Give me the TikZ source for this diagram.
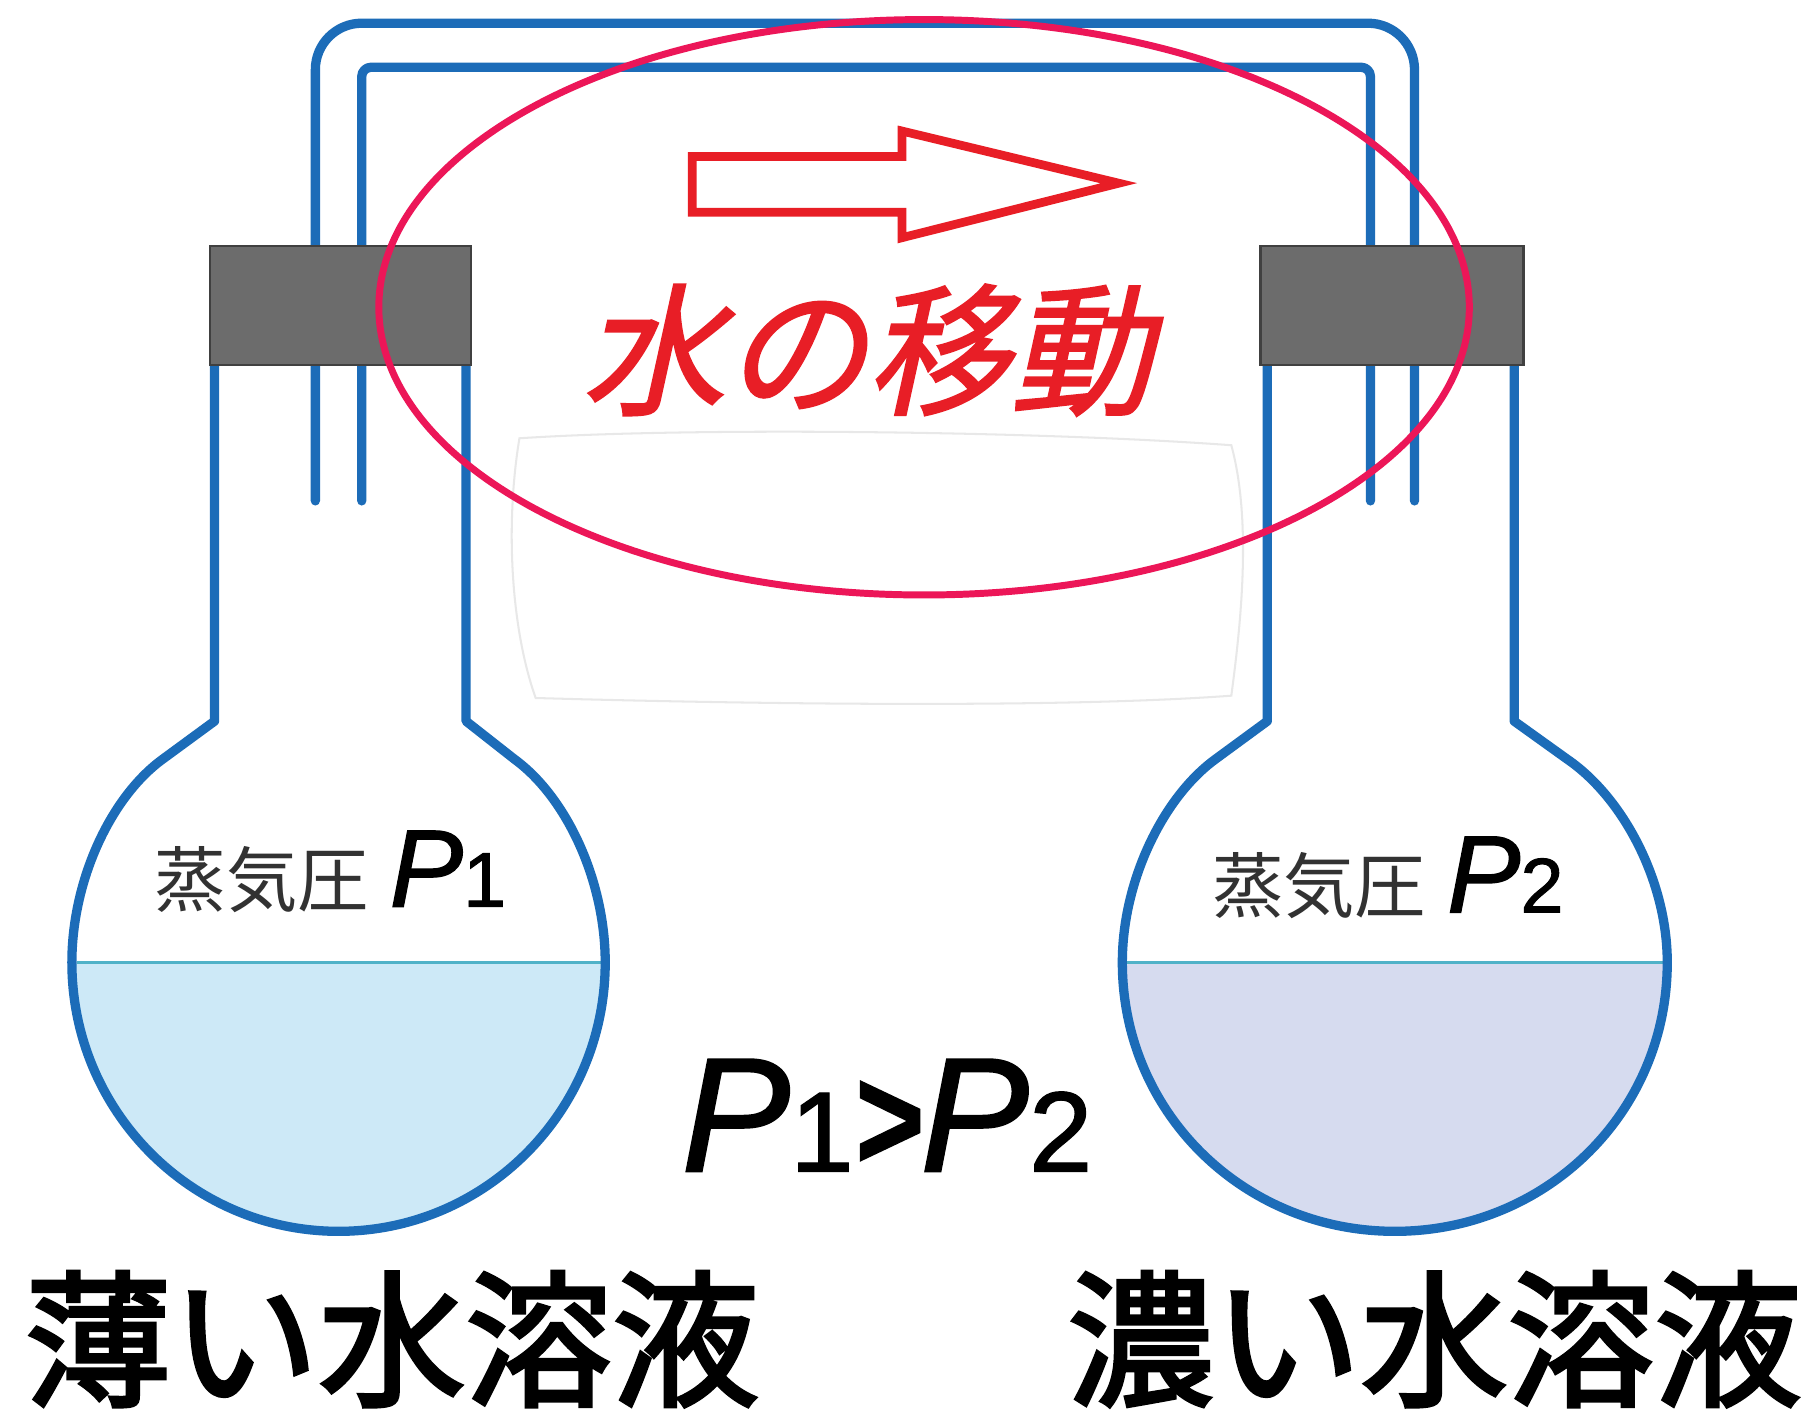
\documentclass[tikz,border=0pt]{standalone}
\usepackage{fontspec}
\usepackage{graphicx}
\setmainfont{Liberation Sans}
\newfontfamily\jp{Noto Sans CJK JP}
\newfontfamily\jpheavy[FakeBold=2.6]{Noto Sans CJK JP}
\newfontfamily\jpslant[FakeSlant=0.22,FakeBold=1.4]{Noto Sans CJK JP}
\newfontfamily\varfont[FakeBold=1.2]{Liberation Sans}
\definecolor{tubeblue}{RGB}{28,108,184}
\definecolor{plugGray}{RGB}{108,108,108}
\definecolor{dilute}{RGB}{205,233,247}
\definecolor{dense}{RGB}{214,219,239}
\definecolor{surface}{RGB}{80,178,200}
\definecolor{moveRed}{RGB}{232,30,38}
\definecolor{ringPink}{RGB}{236,22,88}
\definecolor{labelGray}{RGB}{50,50,50}
\begin{document}
\begin{tikzpicture}[x=0.01cm,y=-0.01cm,
  glass/.style={draw=tubeblue,line width=0.08cm,line cap=round,line join=round},
  plug/.style={fill=plugGray,draw=black!75,line width=0.6pt},
  waterline/.style={draw=surface,line width=0.03cm},
  label/.style={inner sep=0pt,anchor=center},
  vp/.style={label,text=labelGray,font=\jp\fontsize{17.5pt}{20pt}\selectfont},
]
\useasboundingbox (0,0) rectangle (1568,1220);
\fill[white] (0,0) rectangle (1568,1220);

% faint patch left behind in the middle
\draw[draw=black!9,fill=white,line width=0.5pt]
  (448,378) .. controls (600,368) and (900,372) .. (1062,384)
  .. controls (1080,450) and (1070,540) .. (1062,600)
  .. controls (900,612) and (600,606) .. (462,602)
  .. controls (440,540) and (436,450) .. (448,378) -- cycle;

% water in the two flasks
\begin{scope}
  \clip (0,830) rectangle (1568,1100);
  \fill[dilute] (185,622) -- (140,655) .. controls (95,688) and (62,760) .. (62,830)
    .. controls (62,958) and (165,1062) .. (292,1062)
    .. controls (419,1062) and (522,958) .. (522,830)
    .. controls (522,760) and (489,688) .. (444,655) -- (402,622) -- cycle;
  \fill[dense] (1093,622) -- (1048,655) .. controls (1003,688) and (968,760) .. (968,830)
    .. controls (968,960) and (1073,1062) .. (1203,1062)
    .. controls (1333,1062) and (1438,960) .. (1438,830)
    .. controls (1438,760) and (1400,688) .. (1352,655) -- (1306,622) -- cycle;
\end{scope}
\draw[waterline] (66,830) -- (518,830);
\draw[waterline] (972,830) -- (1434,830);

% flasks
\draw[glass] (185,315) -- (185,622) -- (140,655) .. controls (95,688) and (62,760) .. (62,830)
    .. controls (62,958) and (165,1062) .. (292,1062)
    .. controls (419,1062) and (522,958) .. (522,830)
    .. controls (522,760) and (489,688) .. (444,655) -- (402,622) -- (402,315);
\draw[glass] (1093,315) -- (1093,622) -- (1048,655) .. controls (1003,688) and (968,760) .. (968,830)
    .. controls (968,960) and (1073,1062) .. (1203,1062)
    .. controls (1333,1062) and (1438,960) .. (1438,830)
    .. controls (1438,760) and (1400,688) .. (1352,655) -- (1306,622) -- (1306,315);

% connecting tubes
\draw[glass,rounded corners=0.40cm] (272,432) -- (272,20) -- (1220,20) -- (1220,432);
\draw[glass,rounded corners=0.08cm] (312,432) -- (312,58) -- (1182,58) -- (1182,432);

% stoppers
\draw[plug] (181,212) rectangle (406,315);
\draw[plug] (1087,212) rectangle (1314,315);

% direction of water transfer
\draw[draw=moveRed,fill=white,line width=0.075cm,line join=miter]
  (597,135) -- (778,135) -- (778,113) -- (965,158) -- (778,205) -- (778,183) -- (597,183) -- cycle;
\node[label,text=moveRed,font=\jpslant\fontsize{35pt}{40pt}\selectfont] (move) at (748,302) {水の移動};

% vapour pressure labels
\node[vp] (vpA) at (285,752) {蒸気圧\hspace{0.18cm}{\color{black}\varfont\fontsize{27pt}{30pt}\selectfont\textit{P}\fontsize{19pt}{20pt}\selectfont 1}};
\node[vp] (vpB) at (1197,757) {蒸気圧\hspace{0.18cm}{\color{black}\varfont\fontsize{27pt}{30pt}\selectfont\textit{P}\fontsize{19pt}{20pt}\selectfont 2}};

% comparison
\node[label,font=\varfont\fontsize{40pt}{44pt}\selectfont] (ineq) at (765,962)
  {\textit{P}\fontsize{28pt}{30pt}\selectfont 1\kern0.5pt\fontsize{40pt}{44pt}\selectfont\raisebox{0.5pt}{\scalebox{0.72}[0.9]{\bfseries >}}\kern-1pt\textit{P}\fontsize{28pt}{30pt}\selectfont 2};

% solution names
\node[label,font=\jpheavy\fontsize{36pt}{40pt}\selectfont] (thin) at (338,1155) {薄い水溶液};
\node[label,font=\jpheavy\fontsize{36pt}{40pt}\selectfont] (thick) at (1237,1155) {濃い水溶液};

% highlighting ring
\draw[draw=ringPink,line width=0.06cm] (797,265) ellipse [x radius=4.70cm, y radius=2.48cm];
\end{tikzpicture}
\end{document}
